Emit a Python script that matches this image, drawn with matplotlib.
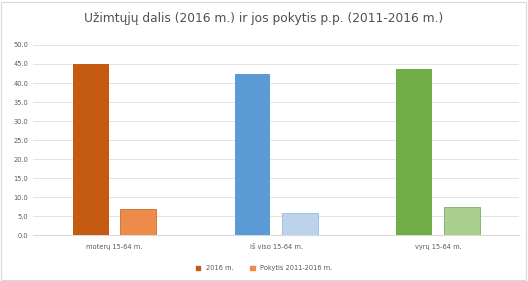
import numpy as np
import matplotlib
matplotlib.use("Agg")
import matplotlib.pyplot as plt
from matplotlib.ticker import FormatStrFormatter

kategorijos = ["moterų 15-64 m.", "iš viso 15-64 m.", "vyrų 15-64 m."]
dalis_2016 = [45.0, 42.4, 43.6]
pokytis = [6.8, 5.8, 7.3]
serijos = ["2016 m.", "Pokytis 2011-2016 m."]

spalvos_big = ["#C55A11", "#5B9BD5", "#70AD47"]
spalvos_small = ["#EE8A4A", "#BDD3EC", "#A9CF8E"]

fig = plt.figure(figsize=(5.28, 2.81), dpi=100)
ax = fig.add_axes([0.063, 0.163, 0.92, 0.677])

x = np.arange(len(kategorijos))
w = 0.222
gap = 0.035
ax.bar(x - w / 2 - gap, dalis_2016, w, color=spalvos_big, zorder=3, label=serijos[0])
ax.bar(x + w / 2 + gap, pokytis, w, color=spalvos_small, zorder=3, label=serijos[1],
       edgecolor=["#C55A11", "#8FB2DA", "#6E9F4E"], linewidth=0.5)

ax.set_xlim(-0.5, 2.5)
ax.set_ylim(0, 50)
ax.set_yticks(np.arange(0, 51, 5))
ax.yaxis.set_major_formatter(FormatStrFormatter("%.1f"))
ax.set_xticks(x)
ax.set_xticklabels(kategorijos)
ax.tick_params(axis="both", length=0, labelsize=4.8, colors="#595959")
ax.tick_params(axis="x", pad=6)
ax.grid(axis="y", color="#E3E3E3", linewidth=0.7, zorder=0)
for s in ["top", "right", "left"]:
    ax.spines[s].set_visible(False)
ax.spines["bottom"].set_color("#D9D9D9")

fig.text(0.5, 0.935, "Užimtųjų dalis (2016 m.) ir jos pokytis p.p. (2011-2016 m.)",
         ha="center", va="center", fontsize=8.8, color="#505050")

h1 = plt.Rectangle((0, 0), 1, 1, color="#C55A11")
h2 = plt.Rectangle((0, 0), 1, 1, color="#EE8A4A")
fig.legend([h1, h2], serijos, loc="center", bbox_to_anchor=(0.5, 0.045), ncol=2,
           frameon=False, fontsize=4.8, labelcolor="#595959", handlelength=0.7,
           handleheight=0.7, columnspacing=2.5)

fig.patches.append(plt.Rectangle((0.002, 0.004), 0.995, 0.99, transform=fig.transFigure,
                                 fill=False, edgecolor="#D9D9D9", linewidth=0.8))

fig.savefig("out.png", dpi=100, facecolor="white")
